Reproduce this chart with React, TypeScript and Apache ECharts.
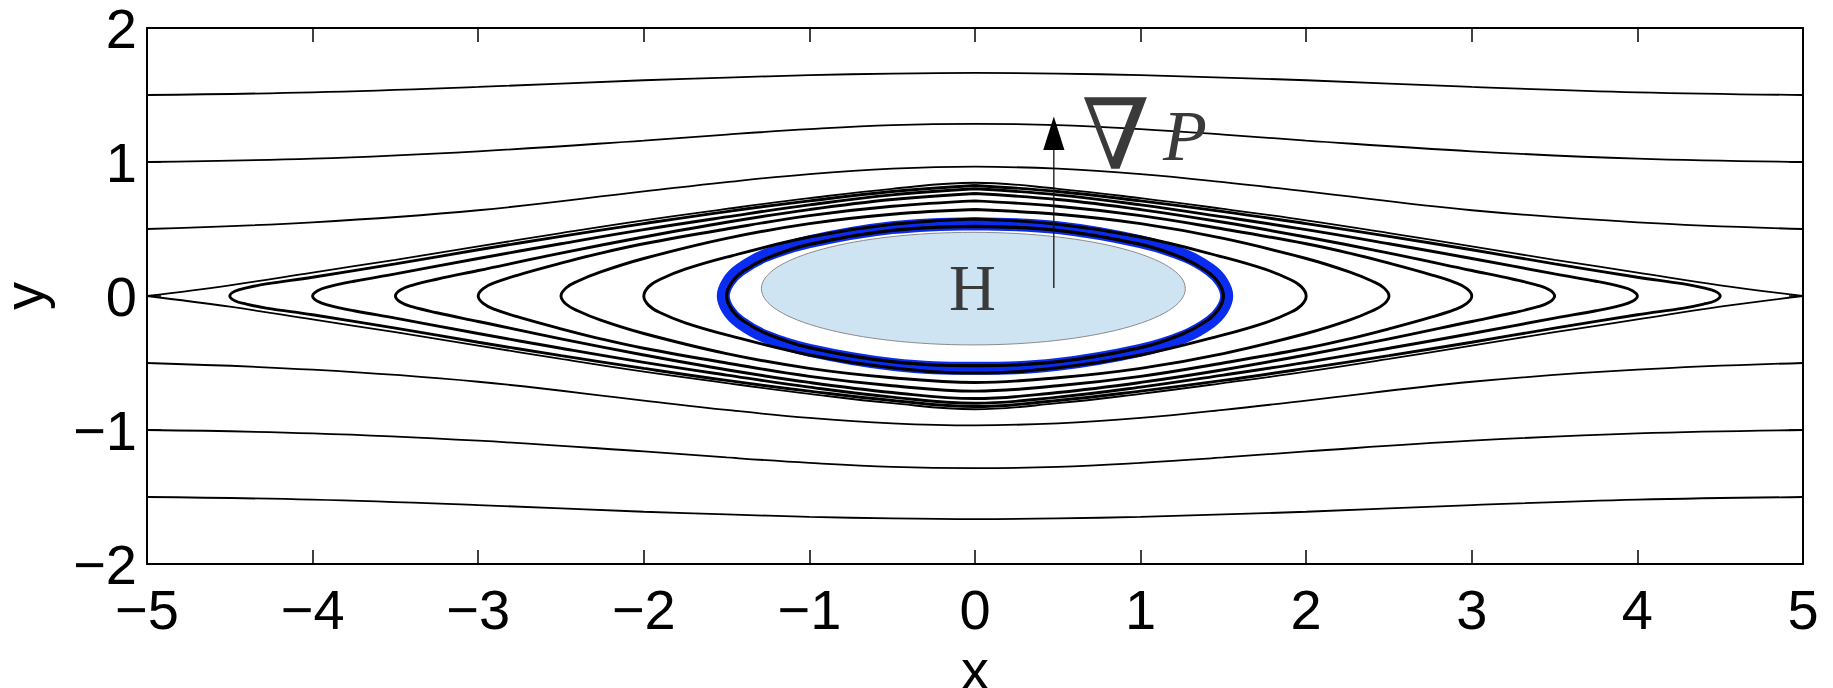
import React, { useEffect, useRef } from "react";
import * as echarts from "echarts";

// ---------- axes ----------
const X_MIN = -5;
const X_MAX = 5;
const Y_MIN = -2;
const Y_MAX = 2;
const TICK_STEP = 1;

// ---------- open streamlines ----------
const OPEN_X = [-5, -4, -3, -2, -1.5, -1, -0.5, 0, 0.5, 1, 1.5, 2, 3, 4, 5];
const OPEN_UP_15 = [1.5, 1.52, 1.56, 1.61, 1.63, 1.648, 1.66, 1.665, 1.66, 1.648, 1.63, 1.61, 1.56, 1.52, 1.5];
const OPEN_UP_10 = [1.0, 1.025, 1.08, 1.16, 1.205, 1.245, 1.275, 1.285, 1.275, 1.245, 1.205, 1.16, 1.08, 1.025, 1.0];
const OPEN_UP_05 = [0.5, 0.55, 0.64, 0.78, 0.85, 0.91, 0.95, 0.965, 0.95, 0.91, 0.85, 0.78, 0.64, 0.55, 0.5];
const OPEN_DN_05 = [-0.5, -0.55, -0.64, -0.78, -0.85, -0.91, -0.95, -0.965, -0.95, -0.91, -0.85, -0.78, -0.64, -0.55, -0.5];
const OPEN_DN_10 = [-1.0, -1.025, -1.08, -1.16, -1.205, -1.245, -1.275, -1.285, -1.275, -1.245, -1.205, -1.16, -1.08, -1.025, -1.0];
const OPEN_DN_15 = [-1.5, -1.52, -1.56, -1.61, -1.63, -1.648, -1.66, -1.665, -1.66, -1.648, -1.63, -1.61, -1.56, -1.52, -1.5];

// ---------- separatrix, upper-left quarter (x from -5 to 0) ----------
const SEPARATRIX_Q: [number, number][] = [
  [-5, 0], [-4.5, 0.08], [-4, 0.175], [-3.5, 0.27], [-3, 0.37], [-2.5, 0.47],
  [-2, 0.565], [-1.5, 0.65], [-1, 0.73], [-0.5, 0.8], [0, 0.845],
];

// ---------- closed streamlines, upper-left quarters ----------
const CLOSED_45: [number, number][] = [
  [-4.5, 0], [-4.47, 0.035], [-4.4, 0.06], [-4.28, 0.09], [-4, 0.14], [-3.5, 0.24], [-3, 0.345],
  [-2.5, 0.445], [-2, 0.54], [-1.5, 0.63], [-1, 0.71], [-0.5, 0.78], [0, 0.825],
];
const CLOSED_40: [number, number][] = [
  [-4, 0], [-3.97, 0.04], [-3.9, 0.07], [-3.75, 0.11], [-3.5, 0.165], [-3, 0.28], [-2.5, 0.39],
  [-2, 0.495], [-1.5, 0.59], [-1, 0.68], [-0.5, 0.755], [0, 0.8],
];
const CLOSED_35: [number, number][] = [
  [-3.5, 0], [-3.47, 0.045], [-3.4, 0.08], [-3.25, 0.125], [-3, 0.19], [-2.5, 0.32], [-2, 0.44],
  [-1.5, 0.55], [-1, 0.645], [-0.5, 0.72], [0, 0.765],
];
const CLOSED_30: [number, number][] = [
  [-3, 0], [-2.97, 0.055], [-2.9, 0.1], [-2.75, 0.16], [-2.5, 0.245], [-2.26, 0.32], [-2, 0.39],
  [-1.5, 0.5], [-1, 0.6], [-0.5, 0.67], [0, 0.71],
];
const CLOSED_25: [number, number][] = [
  [-2.5, 0], [-2.47, 0.06], [-2.4, 0.11], [-2.26, 0.18], [-2, 0.28], [-1.5, 0.43], [-1, 0.54],
  [-0.5, 0.61], [0, 0.645],
];
const CLOSED_20: [number, number][] = [
  [-2, 0], [-1.97, 0.07], [-1.9, 0.125], [-1.75, 0.2], [-1.5, 0.29], [-1, 0.44], [-0.5, 0.535], [0, 0.575],
];
const CLOSED_15: [number, number][] = [
  [-1.5, 0], [-1.47, 0.1], [-1.4, 0.185], [-1.25, 0.285], [-1, 0.385], [-0.5, 0.49], [0, 0.52],
];
// blue highlight drawn around the innermost streamline
const BLUE_RING: [number, number][] = [
  [-1.52, 0], [-1.49, 0.105], [-1.42, 0.195], [-1.27, 0.3], [-1, 0.405], [-0.5, 0.51], [0, 0.54],
];

// ---------- annotations (data units) ----------
const HIGH_REGION = { cx: -0.01, cy: 0.055, rx: 1.28, ry: 0.42 };
const HIGH_LABEL = { x: -0.015, y: 0.06, text: "H" };
const ARROW = { x: 0.476, yFrom: 0.06, yHeadBase: 1.09, yTip: 1.34, halfWidth: 0.064 };
const NABLA_LABEL = { x: 0.85, y: 1.2, text: "\u2207" };
const P_LABEL = { x: 1.268, y: 1.196, text: "P" };

type Pt = [number, number];

function topHalf(q: Pt[]): Pt[] {
  const right = q.slice(0, -1).reverse().map(([x, y]) => [-x, y] as Pt);
  return [...q, ...right];
}
function bottomHalf(q: Pt[]): Pt[] {
  return topHalf(q).map(([x, y]) => [x, -y] as Pt);
}
function closedLoop(q: Pt[]): Pt[] {
  const top = topHalf(q); // -a .. a
  const bottom = top.slice().reverse().map(([x, y]) => [x, -y] as Pt); // a .. -a
  const loop = [...top, ...bottom.slice(1)]; // starts and ends at (-a,0)
  const ring = loop.slice(0, -1);
  const k = q.length - 1; // top centre
  return [...ring.slice(k), ...ring.slice(0, k + 1)];
}

const lineSeries = (data: Pt[], width: number, color = "#000", z = 3) => ({
  type: "line",
  data,
  smooth: 0.4,
  showSymbol: false,
  symbol: "none",
  silent: true,
  z,
  lineStyle: { color, width },
});

export default function App() {
  const ref = useRef<HTMLDivElement>(null);

  useEffect(() => {
    if (!ref.current) return;
    const chart = echarts.init(ref.current, undefined, { renderer: "svg" });

    const fmt = (v: number) => (v < 0 ? "\u2212" + Math.abs(v) : String(v));
    const axisLine = { show: true, onZero: false, lineStyle: { color: "#000", width: 2 } };
    const axisTick = { show: true, inside: true, length: 14, lineStyle: { color: "#000", width: 1.5 } };
    const labelFont = { fontSize: 56, fontFamily: "Liberation Sans, Arial, sans-serif", color: "#000" };

    const openSeries = [OPEN_UP_15, OPEN_UP_10, OPEN_UP_05, OPEN_DN_05, OPEN_DN_10, OPEN_DN_15].map((ys) =>
      lineSeries(OPEN_X.map((x, i) => [x, ys[i]] as Pt), 1.8)
    );

    const closed = [CLOSED_45, CLOSED_40, CLOSED_35, CLOSED_30, CLOSED_25, CLOSED_20].map((q) =>
      lineSeries(closedLoop(q), 2.9)
    );

    const option: any = {
      animation: false,
      backgroundColor: "#fff",
      grid: { left: 147, right: 30, top: 28, bottom: 124, containLabel: false, outerBoundsMode: "none" },
      xAxis: [
        {
          type: "value", min: X_MIN, max: X_MAX, interval: TICK_STEP, position: "bottom",
          axisLine, axisTick,
          axisLabel: { ...labelFont, margin: 17, formatter: fmt },
          splitLine: { show: false },
          name: "x", nameLocation: "middle", nameGap: 75,
          nameTextStyle: { ...labelFont, lineHeight: 40 },
        },
        {
          type: "value", min: X_MIN, max: X_MAX, interval: TICK_STEP, position: "top",
          axisLine, axisTick, axisLabel: { show: false }, splitLine: { show: false },
        },
      ],
      yAxis: [
        {
          type: "value", min: Y_MIN, max: Y_MAX, interval: TICK_STEP, position: "left",
          axisLine, axisTick,
          axisLabel: { ...labelFont, lineHeight: 38, margin: 10, formatter: fmt },
          splitLine: { show: false },
          name: "y", nameLocation: "middle", nameGap: 104, nameRotate: 90,
          nameTextStyle: { ...labelFont, lineHeight: 40 },
        },
        {
          type: "value", min: Y_MIN, max: Y_MAX, interval: TICK_STEP, position: "right",
          axisLine, axisTick, axisLabel: { show: false }, splitLine: { show: false },
        },
      ],
      series: [
        {
          type: "custom",
          silent: true,
          z: 1,
          data: [[HIGH_REGION.cx, HIGH_REGION.cy]],
          renderItem: (_p: any, api: any) => {
            const c = api.coord([HIGH_REGION.cx, HIGH_REGION.cy]);
            const s = api.size([HIGH_REGION.rx, HIGH_REGION.ry]);
            return {
              type: "ellipse",
              shape: { cx: c[0], cy: c[1], rx: s[0], ry: s[1] },
              style: { fill: "#cfe4f3", stroke: "#8c8c8c", lineWidth: 1 },
            };
          },
        },
        ...openSeries,
        lineSeries(topHalf(SEPARATRIX_Q), 1.8),
        lineSeries(bottomHalf(SEPARATRIX_Q), 1.8),
        ...closed,
        lineSeries(closedLoop(BLUE_RING), 13, "#0a2cf0", 2),
        lineSeries(closedLoop(CLOSED_15), 3.2),
        {
          type: "custom",
          silent: true,
          z: 10,
          data: [[ARROW.x, ARROW.yFrom]],
          renderItem: (_p: any, api: any) => {
            const a0 = api.coord([ARROW.x, ARROW.yFrom]);
            const a1 = api.coord([ARROW.x, ARROW.yHeadBase]);
            const tip = api.coord([ARROW.x, ARROW.yTip]);
            const hl = api.coord([ARROW.x - ARROW.halfWidth, ARROW.yHeadBase]);
            const hr = api.coord([ARROW.x + ARROW.halfWidth, ARROW.yHeadBase]);
            const h = api.coord([HIGH_LABEL.x, HIGH_LABEL.y]);
            const n = api.coord([NABLA_LABEL.x, NABLA_LABEL.y]);
            const p = api.coord([P_LABEL.x, P_LABEL.y]);
            return {
              type: "group",
              children: [
                { type: "line", shape: { x1: a0[0], y1: a0[1], x2: a1[0], y2: a1[1] }, style: { stroke: "#111", lineWidth: 1.3 } },
                { type: "polygon", shape: { points: [tip, hl, hr] }, style: { fill: "#000" } },
                {
                  type: "text", x: h[0], y: h[1],
                  style: { text: HIGH_LABEL.text, fontSize: 65, fontFamily: "Liberation Serif, Times New Roman, serif", fill: "#3a3a3a", align: "center", verticalAlign: "middle" },
                },
                {
                  type: "text", x: n[0], y: n[1],
                  style: { text: NABLA_LABEL.text, fontSize: 98, fontFamily: "DejaVu Serif, serif", fill: "#3a3a3a", align: "center", verticalAlign: "middle" },
                },
                {
                  type: "text", x: p[0], y: p[1],
                  style: { text: P_LABEL.text, fontSize: 72, fontStyle: "italic", fontFamily: "Liberation Serif, Times New Roman, serif", fill: "#3a3a3a", align: "center", verticalAlign: "middle" },
                },
              ],
            };
          },
        },
      ],
    };

    chart.setOption(option);
    return () => chart.dispose();
  }, []);

  return (
    <div
      ref={ref}
      style={{ position: "absolute", left: 0, top: 0, width: 1833, height: 688, background: "#fff" }}
    />
  );
}
